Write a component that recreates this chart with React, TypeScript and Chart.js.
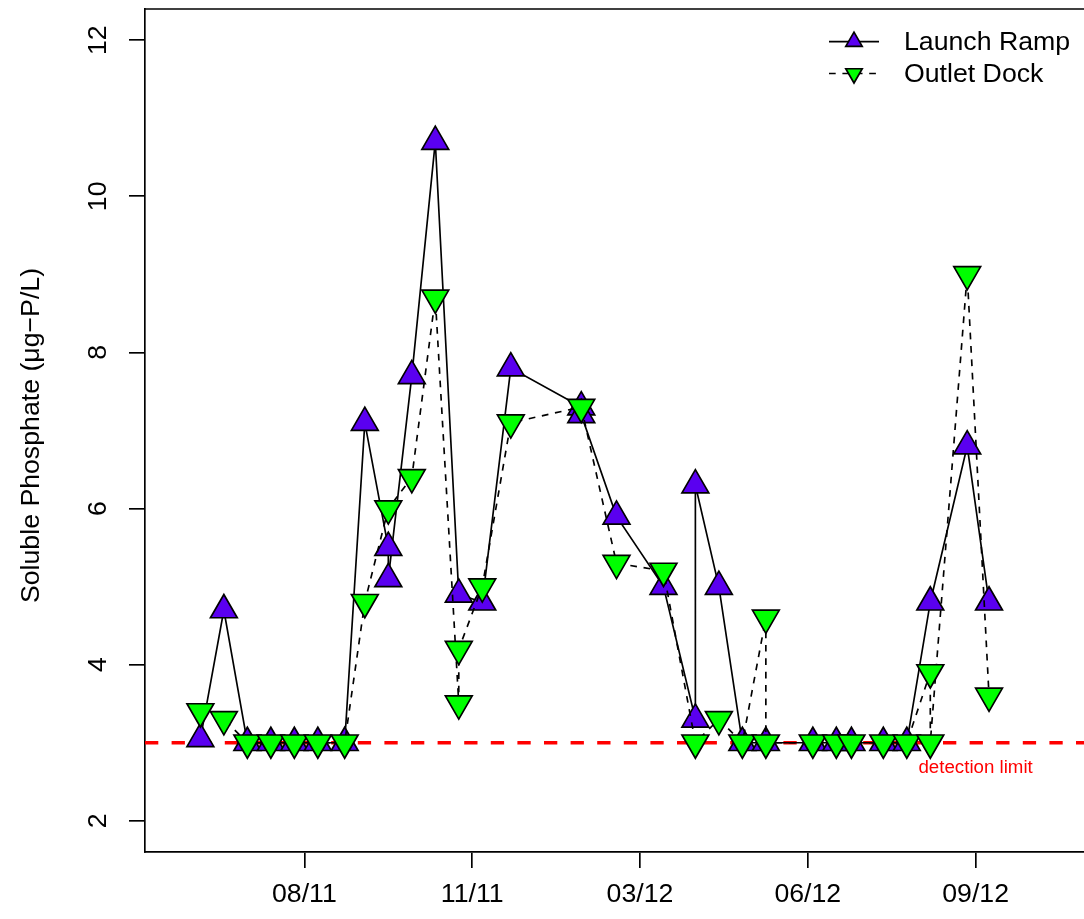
import React, { useEffect, useRef } from "react";
import { Chart, registerables } from "chart.js";

Chart.register(...registerables);

// x axis: days relative to the first labelled tick
const tickDays = [0, 100, 200, 300, 400];
const tickLabels = ["08/11", "11/11", "03/12", "06/12", "09/12"];
const yTicks = [2, 4, 6, 8, 10, 12];

const rampDays = [-62, -48, -34, -20, -6, 8, 24, 36, 50, 50, 64, 78, 92, 106, 123, 165, 165, 186, 214, 233, 233, 247, 261, 275, 303, 317, 326, 345, 359, 373, 395, 408];
const rampValues = [3.05, 4.7, 3.0, 3.0, 3.0, 3.0, 3.0, 7.1, 5.5, 5.1, 7.7, 10.7, 4.9, 4.8, 7.8, 7.3, 7.2, 5.9, 5.0, 3.3, 6.3, 5.0, 3.0, 3.0, 3.0, 3.0, 3.0, 3.0, 3.0, 4.8, 6.8, 4.8];

const dockDays = [-62, -48, -34, -20, -6, 8, 24, 36, 50, 64, 78, 92, 92, 106, 123, 165, 186, 214, 233, 247, 261, 275, 275, 303, 317, 326, 345, 359, 373, 373, 395, 408];
const dockValues = [3.4, 3.3, 3.0, 3.0, 3.0, 3.0, 3.0, 4.8, 6.0, 6.4, 8.7, 3.5, 4.2, 5.0, 7.1, 7.3, 5.3, 5.2, 3.0, 3.3, 3.0, 4.6, 3.0, 3.0, 3.0, 3.0, 3.0, 3.0, 3.9, 3.0, 9.0, 3.6];

const detectionLimit = 3;
const detectionLabel = "detection limit";
const detectionLabelPos = { x: 400, y: 2.7 };

const seriesNames = ["Launch Ramp", "Outlet Dock"];
const yTitle = "Soluble Phosphate (\u03BCg\u2212P/L)";

const PURPLE = "#5a00f0";
const GREEN = "#00ff00";
const FONT = '"Liberation Sans", Arial, Helvetica, sans-serif';
const LW = 1.67;

function tri(ctx: CanvasRenderingContext2D, x: number, y: number, r: number, rotDeg: number, fill: string) {
  let rad = (rotDeg * Math.PI) / 180;
  ctx.beginPath();
  ctx.moveTo(x + Math.sin(rad) * r, y - Math.cos(rad) * r);
  rad += (2 * Math.PI) / 3;
  ctx.lineTo(x + Math.sin(rad) * r, y - Math.cos(rad) * r);
  rad += (2 * Math.PI) / 3;
  ctx.lineTo(x + Math.sin(rad) * r, y - Math.cos(rad) * r);
  ctx.closePath();
  ctx.fillStyle = fill;
  ctx.fill();
  ctx.strokeStyle = "#000";
  ctx.lineWidth = LW;
  ctx.setLineDash([]);
  ctx.stroke();
}

const decorPlugin = {
  id: "decor",
  beforeDatasetsDraw(chart: any) {
    const { ctx, chartArea } = chart;
    const y = chart.scales.y.getPixelForValue(detectionLimit);
    ctx.save();
    ctx.beginPath();
    ctx.rect(chartArea.left, chartArea.top, chartArea.right - chartArea.left, chartArea.bottom - chartArea.top);
    ctx.clip();
    ctx.strokeStyle = "#ff0000";
    ctx.lineWidth = 3.4;
    ctx.setLineDash([13.3, 13.3]);
    ctx.beginPath();
    ctx.moveTo(chartArea.left, y);
    ctx.lineTo(chartArea.right, y);
    ctx.stroke();
    ctx.restore();
  },
  afterDraw(chart: any) {
    const { ctx, chartArea } = chart;
    const xs = chart.scales.x;
    const ys = chart.scales.y;
    ctx.save();
    // top line of the box
    ctx.strokeStyle = "#000";
    ctx.lineWidth = LW;
    ctx.setLineDash([]);
    ctx.beginPath();
    ctx.moveTo(chartArea.left, chartArea.top);
    ctx.lineTo(chartArea.right + 5, chartArea.top);
    ctx.stroke();

    ctx.fillStyle = "#000";
    ctx.font = `26.7px ${FONT}`;
    // x tick labels
    ctx.textAlign = "center";
    ctx.textBaseline = "alphabetic";
    tickDays.forEach((d, i) => {
      ctx.fillText(tickLabels[i], xs.getPixelForValue(d), 902);
    });
    // y tick labels (rotated)
    yTicks.forEach((v) => {
      ctx.save();
      ctx.translate(106, ys.getPixelForValue(v));
      ctx.rotate(-Math.PI / 2);
      ctx.fillText(String(v), 0, 0);
      ctx.restore();
    });
    // y title
    ctx.save();
    ctx.translate(39, (chartArea.top + chartArea.bottom) / 2 + 5);
    ctx.rotate(-Math.PI / 2);
    ctx.fillText(yTitle, 0, 0);
    ctx.restore();

    // detection limit label
    ctx.fillStyle = "#ff0000";
    ctx.font = `18.7px ${FONT}`;
    ctx.fillText(detectionLabel, xs.getPixelForValue(detectionLabelPos.x), ys.getPixelForValue(detectionLabelPos.y) + 7);

    // legend
    const lx0 = 829, lx1 = 879, lxm = 854;
    const rows = [41.7, 73.5];
    ctx.strokeStyle = "#000";
    ctx.lineWidth = LW;
    ctx.setLineDash([]);
    ctx.beginPath();
    ctx.moveTo(lx0, rows[0]);
    ctx.lineTo(lx1, rows[0]);
    ctx.stroke();
    tri(ctx, lxm, rows[0], 9.5, 0, PURPLE);
    ctx.setLineDash([6.7, 6.7]);
    ctx.lineWidth = LW;
    ctx.beginPath();
    ctx.moveTo(lx0, rows[1]);
    ctx.lineTo(lx1, rows[1]);
    ctx.stroke();
    tri(ctx, lxm, rows[1], 9.5, 180, GREEN);
    ctx.fillStyle = "#000";
    ctx.font = `26.7px ${FONT}`;
    ctx.textAlign = "left";
    ctx.fillText(seriesNames[0], 904, rows[0] + 8);
    ctx.fillText(seriesNames[1], 904, rows[1] + 8);
    ctx.restore();
  },
};

export default function App() {
  const ref = useRef<HTMLCanvasElement | null>(null);
  useEffect(() => {
    const canvas = ref.current;
    if (!canvas) return;
    const chart = new Chart(canvas, {
      type: "line",
      data: {
        datasets: [
          {
            label: seriesNames[1],
            data: dockDays.map((d, i) => ({ x: d, y: dockValues[i] })),
            borderColor: "#000",
            borderWidth: LW,
            borderDash: [6.7, 6.7],
            pointStyle: "triangle",
            pointRotation: 180,
            pointRadius: 15.5,
            pointHoverRadius: 15.5,
            pointBackgroundColor: GREEN,
            pointBorderColor: "#000",
            pointBorderWidth: LW,
            tension: 0,
            fill: false,
            order: 0,
          } as any,
          {
            label: seriesNames[0],
            data: rampDays.map((d, i) => ({ x: d, y: rampValues[i] })),
            borderColor: "#000",
            borderWidth: LW,
            pointStyle: "triangle",
            pointRotation: 0,
            pointRadius: 15.5,
            pointHoverRadius: 15.5,
            pointBackgroundColor: PURPLE,
            pointBorderColor: "#000",
            pointBorderWidth: LW,
            tension: 0,
            fill: false,
            order: 1,
          } as any,
        ],
      },
      options: {
        animation: false,
        responsive: false,
        maintainAspectRatio: false,
        events: [],
        layout: { autoPadding: false, padding: { top: 9, left: 0, right: 0, bottom: 0 } },
        plugins: { legend: { display: false }, tooltip: { enabled: false } },
        scales: {
          x: {
            type: "linear",
            min: -95,
            max: 464.6,
            afterBuildTicks: (s: any) => {
              s.ticks = tickDays.map((v) => ({ value: v }));
            },
            afterFit: (s: any) => {
              s.height = 67;
            },
            grid: { drawOnChartArea: false, drawTicks: true, tickLength: 16, color: "#000", lineWidth: LW },
            border: { display: true, color: "#000", width: LW },
            ticks: { display: false },
          },
          y: {
            type: "linear",
            min: 1.6,
            max: 12.4,
            afterBuildTicks: (s: any) => {
              s.ticks = yTicks.map((v) => ({ value: v }));
            },
            afterFit: (s: any) => {
              s.width = 145;
            },
            grid: { drawOnChartArea: false, drawTicks: true, tickLength: 16, color: "#000", lineWidth: LW },
            border: { display: true, color: "#000", width: LW },
            ticks: { display: false },
          },
        },
      } as any,
      plugins: [decorPlugin],
    });
    return () => chart.destroy();
  }, []);
  return (
    <div style={{ position: "fixed", left: 0, top: 0, width: 1084, height: 919, background: "#fff" }}>
      <canvas ref={ref} width={1084} height={919} style={{ width: 1084, height: 919, display: "block" }} />
    </div>
  );
}
